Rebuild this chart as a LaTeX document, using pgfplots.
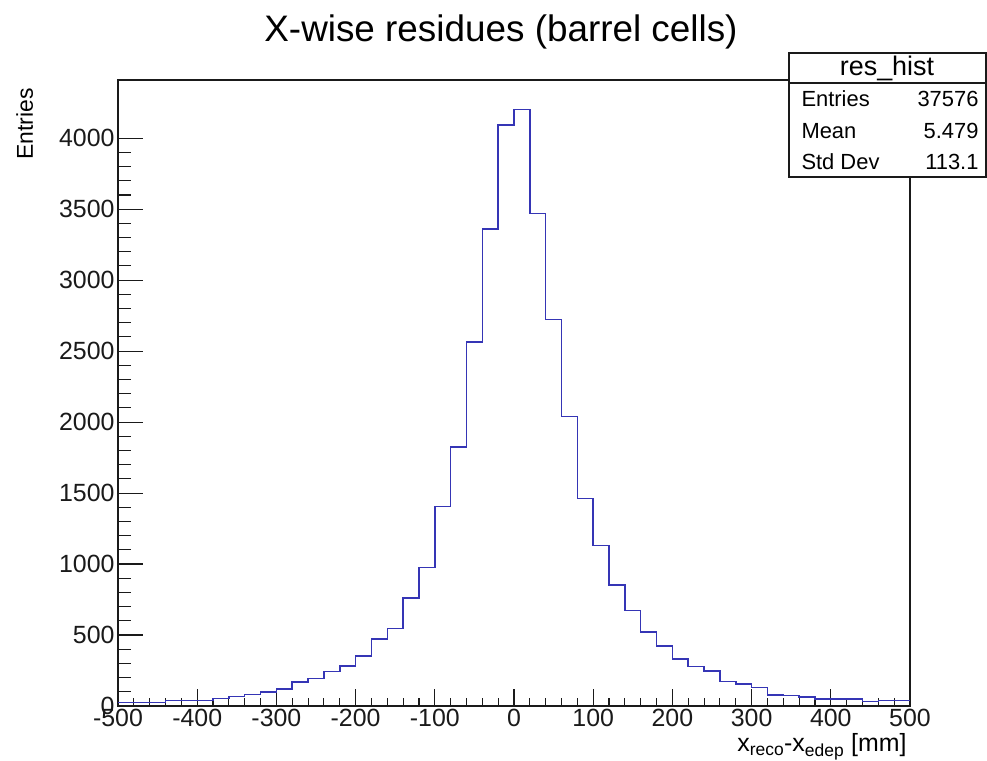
\documentclass[border=0pt]{standalone}
\usepackage{fontspec}
\setmainfont{Liberation Sans}
\usepackage{pgfplots}
\pgfplotsset{compat=1.18}
\definecolor{hline}{HTML}{3535B5}
\definecolor{frm}{HTML}{1A1A1A}

% bin low edge, content (last row closes the final bin at 500)
\pgfplotstableread{
x    y
-500 25
-480 25
-460 25
-440 37
-420 37
-400 37
-380 52
-360 66
-340 80
-320 100
-300 120
-280 170
-260 193
-240 242
-220 282
-200 353
-180 471
-160 546
-140 762
-120 976
-100 1407
-80  1826
-60  2564
-40  3359
-20  4093
0    4201
20   3470
40   2722
60   2040
80   1460
100  1132
120  853
140  673
160  520
180  423
200  331
220  280
240  247
260  172
280  155
300  129
320  78
340  74
360  64
380  50
400  50
420  48
440  33
460  40
480  40
500  40
}\reshist

\begin{document}
\begin{tikzpicture}[x=1bp,y=1bp]
\path[use as bounding box] (-118,-55) rectangle (869,706);
\begin{axis}[
  at={(0,0)}, anchor=south west,
  scale only axis, width=792bp, height=626bp,
  xmin=-500, xmax=500, ymin=0, ymax=4410,
  xtick={-500,-400,...,500}, ytick={0,500,...,4000},
  minor x tick num=4, minor y tick num=4,
  xtick pos=bottom, ytick pos=left, tick align=inside,
  major tick length=25bp, minor tick length=13bp,
  xtick style={/pgfplots/major tick length=17bp, /pgfplots/minor tick length=8bp},
  axis line style={draw=frm, line width=1.2bp},
  tick style={draw=frm, line width=1.1bp},
  tick label style={font=\fontsize{25}{30}\selectfont, color=frm},
  /pgf/number format/assume math mode=true,
  /pgf/number format/1000 sep={},
  axis background/.style={fill=white},
]
  \addplot[const plot, draw=hline, line width=1.5bp] table[x=x,y=y] {\reshist};
\end{axis}

% title
\node[anchor=base, font=\fontsize{37}{42}\selectfont] at (383,664) {X-wise residues (barrel cells)};
% axis titles
\node[anchor=base east, font=\fontsize{25}{30}\selectfont] at (792,-46)
  {x\textsubscript{reco}-x\textsubscript{edep} [mm]};
\node[rotate=90, anchor=base east, font=\fontsize{23}{28}\selectfont] at (-85,621) {Entries};

% stat box
\draw[fill=white, draw=frm, line width=1.2bp] (671,529) rectangle (868,653);
\draw[frm, line width=1.2bp] (671,623) -- (868,623);
\node[anchor=base, font=\fontsize{27}{32}\selectfont] at (769,630) {res\_hist};
\begin{scope}[every node/.style={font=\fontsize{22}{26}\selectfont}]
  \node[anchor=base west] at (680,599) {Entries};
  \node[anchor=base west] at (680,567) {Mean};
  \node[anchor=base west] at (680,536) {Std Dev};
  \node[anchor=base east] at (864,599) {37576};
  \node[anchor=base east] at (864,567) {5.479};
  \node[anchor=base east] at (864,536) {113.1};
\end{scope}
\end{tikzpicture}
\end{document}
